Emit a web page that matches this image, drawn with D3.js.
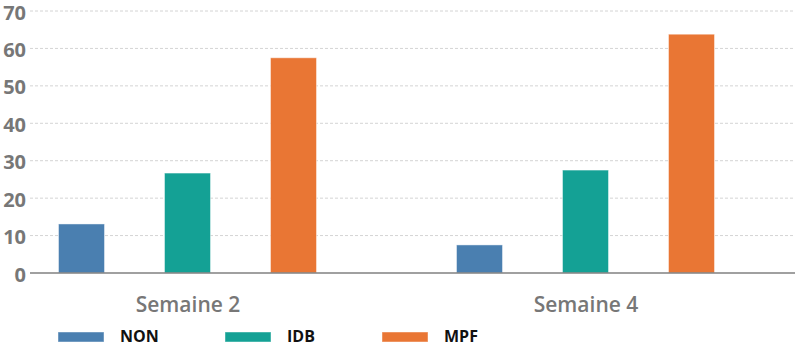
<!DOCTYPE html>
<html lang="fr">
<head>
    <meta charset="UTF-8">
    <style>
        body { margin: 0; background: #fff; }
        svg text { font-family: "Open Sans", sans-serif; }
    </style>
    <title>Semaines</title>
    <script src="https://d3js.org/d3.v7.min.js"></script>
</head>
<body>
<div id="chart"></div>
<script>
    // data
    const groups = ["Semaine 2", "Semaine 4"]
    const series = ["NON", "IDB", "MPF"]
    const colors = ["#4a7fb0", "#14a195", "#e97634"]
    const NON = [13.1, 7.5]
    const IDB = [26.7, 27.5]
    const MPF = [57.5, 63.8]
    const yTicks = [0, 10, 20, 30, 40, 50, 60, 70]

    const values = { NON, IDB, MPF }

    const W = 800, H = 351
    const LEFT = 30, RIGHT = 795, BASE = 273, TOP = 11

    const svg = d3.select("#chart").append("svg")
        .attr("width", W).attr("height", H)

    const y = d3.scaleLinear().domain([0, 70]).range([BASE, TOP])

    // group centres and bar offsets inside a group
    const x0 = d3.scalePoint().domain(groups).range([187.5, 585.5])
    const x1 = d3.scalePoint().domain(series).range([-106, 106])
    const barW = 46

    // grid
    svg.append("g").selectAll("line")
        .data(yTicks.filter(d => d > 0))
        .join("line")
        .attr("x1", LEFT).attr("x2", RIGHT)
        .attr("y1", d => y(d)).attr("y2", d => y(d))
        .attr("stroke", "#d4d4d4")
        .attr("stroke-dasharray", "3,2")

    // y axis labels
    const yAxis = d3.axisLeft(y).tickValues(yTicks).tickSize(0).tickPadding(4)
    svg.append("g")
        .attr("transform", `translate(${LEFT},0)`)
        .call(yAxis)
        .call(g => g.select(".domain").remove())
        .selectAll("text")
            .attr("dy", "0.4em")
            .attr("font-size", "20px")
            .attr("font-weight", 700)
            .attr("fill", "#777")
            .attr("font-family", "Open Sans, sans-serif")

    // bars
    series.forEach((s, si) => {
        svg.append("g").selectAll("rect")
            .data(groups.map((g, i) => ({ g, v: values[s][i] })))
            .join("rect")
            .attr("x", d => x0(d.g) + x1(s) - barW / 2)
            .attr("y", d => y(d.v))
            .attr("width", barW)
            .attr("height", d => BASE - y(d.v))
            .attr("fill", colors[si])
            .attr("stroke", "rgba(255,255,255,0.45)")
            .attr("stroke-width", 1)
    })

    // baseline
    svg.append("line")
        .attr("x1", LEFT).attr("x2", RIGHT)
        .attr("y1", BASE).attr("y2", BASE)
        .attr("stroke", "#808080").attr("stroke-width", 1.5)

    // x labels
    const xAxis = d3.axisBottom(x0).tickSize(0).tickPadding(24)
    svg.append("g")
        .attr("transform", `translate(0,${BASE})`)
        .call(xAxis)
        .call(g => g.select(".domain").remove())
        .selectAll("text")
            .attr("font-size", "21px")
            .attr("font-weight", 600)
            .attr("fill", "#777")
            .attr("font-family", "Open Sans, sans-serif")

    // legend
    const legX = [58, 225, 382]
    const leg = svg.append("g").selectAll("g")
        .data(series)
        .join("g")
        .attr("transform", (d, i) => `translate(${legX[i]},332)`)
    leg.append("rect")
        .attr("width", barW).attr("height", 10)
        .attr("fill", (d, i) => colors[i])
        .attr("stroke", "rgba(255,255,255,0.45)")
    leg.append("text")
        .attr("x", 62).attr("y", 10)
        .attr("font-size", "16px")
        .attr("font-weight", 700)
        .attr("fill", "#111")
        .text(d => d)
</script>
</body>
</html>
